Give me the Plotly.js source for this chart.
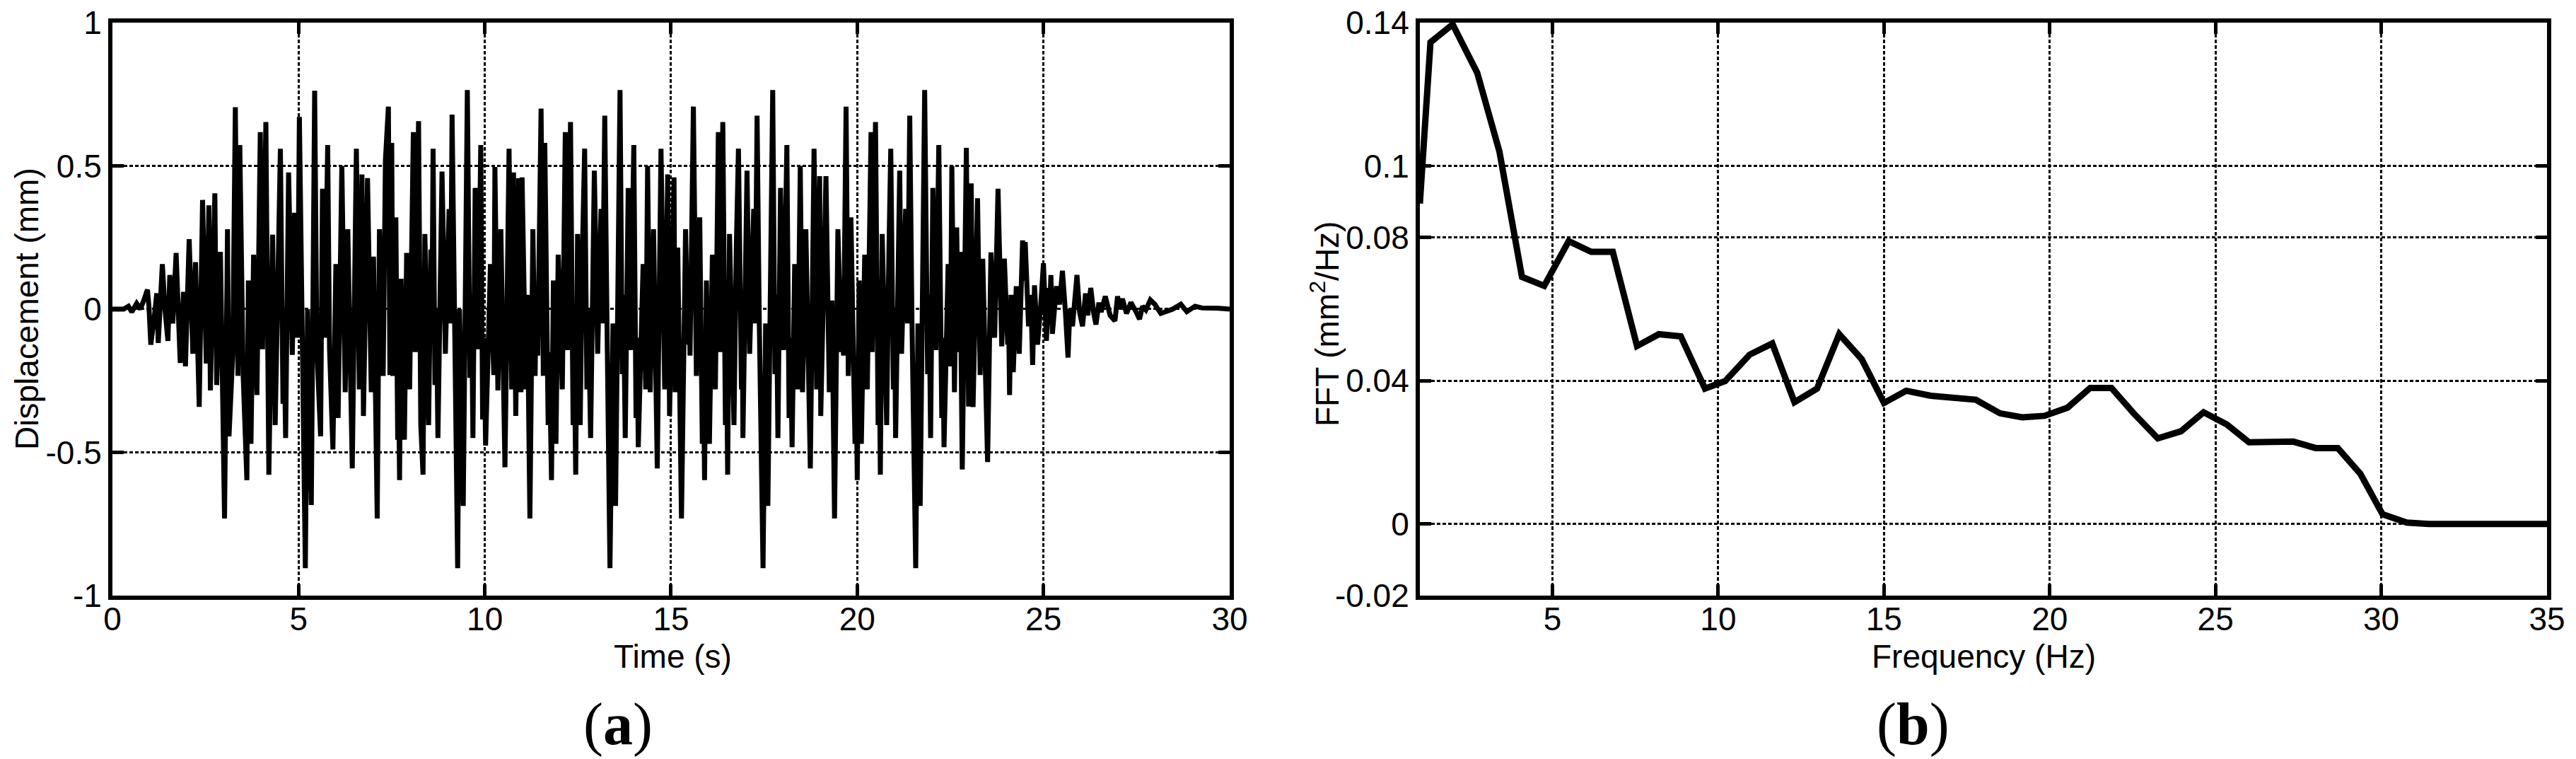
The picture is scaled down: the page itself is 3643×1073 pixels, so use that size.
<!DOCTYPE html>
<html>
<head>
<meta charset="utf-8">
<script src="https://cdn.plot.ly/plotly-3.0.1.min.js"></script>
<style>
  html, body { margin: 0; padding: 0; background: #fff; }
  #chart { width: 3643px; height: 1073px; }
</style>
</head>
<body>
<div id="chart"></div>
<script>
// (a) displacement record (peaks and troughs)
const timeS = [
  0, 0.3, 0.43, 0.52, 0.65, 0.75, 0.84, 0.94, 0.98, 1.03, 1.13, 1.19, 1.23, 1.34, 1.41, 1.49, 1.54, 1.62, 1.71, 1.82,
  1.91, 1.96, 2.06, 2.16, 2.23, 2.33, 2.42, 2.52, 2.59, 2.63, 2.75, 2.80, 2.90, 3.01, 3.09, 3.13, 3.23, 3.30, 3.37, 3.42,
  3.51, 3.61, 3.65, 3.72, 3.79, 3.88, 3.97, 4.03, 4.12, 4.20, 4.30, 4.37, 4.51, 4.58, 4.61, 4.65, 4.73, 4.83, 4.89, 4.97,
  5.02, 5.10, 5.18, 5.24, 5.34, 5.43, 5.49, 5.59, 5.64, 5.70, 5.78, 5.83, 5.92, 6.00, 6.06, 6.16, 6.25, 6.32, 6.44, 6.55,
  6.63, 6.70, 6.74, 6.85, 6.95, 7.01, 7.11, 7.17, 7.27, 7.33, 7.41, 7.45, 7.50, 7.53, 7.61, 7.66, 7.68, 7.71, 7.75, 7.84,
  7.90, 7.98, 8.08, 8.13, 8.22, 8.28, 8.34, 8.39, 8.49, 8.55, 8.58, 8.61, 8.66, 8.70, 8.74, 8.85, 8.94, 9.04, 9.08, 9.12,
  9.20, 9.27, 9.32, 9.42, 9.53, 9.60, 9.64, 9.68, 9.74, 9.82, 9.89, 9.94, 9.98, 10.02, 10.15, 10.24, 10.27, 10.35, 10.43, 10.54,
  10.65, 10.72, 10.77, 10.83, 10.91, 10.97, 11.00, 11.10, 11.14, 11.21, 11.29, 11.35, 11.38, 11.42, 11.51, 11.57, 11.61, 11.70, 11.73, 11.79,
  11.84, 11.91, 11.97, 12.08, 12.16, 12.22, 12.30, 12.37, 12.40, 12.44, 12.49, 12.56, 12.62, 12.68, 12.74, 12.78, 12.84, 12.94, 13.03, 13.12,
  13.16, 13.22, 13.28, 13.36, 13.44, 13.51, 13.63, 13.69, 13.72, 13.77, 13.85, 13.91, 14.00, 14.06, 14.09, 14.12, 14.25, 14.32, 14.37, 14.44,
  14.53, 14.63, 14.73, 14.83, 14.91, 14.96, 15.08, 15.11, 15.18, 15.28, 15.39, 15.45, 15.48, 15.51, 15.60, 15.68, 15.77, 15.84, 15.87, 15.90,
  15.95, 16.03, 16.11, 16.19, 16.27, 16.32, 16.39, 16.46, 16.49, 16.52, 16.57, 16.69, 16.75, 16.81, 16.89, 16.91, 16.93, 17.04, 17.11, 17.22,
  17.26, 17.31, 17.37, 17.47, 17.54, 17.60, 17.73, 17.79, 17.83, 17.87, 17.94, 18.02, 18.11, 18.17, 18.21, 18.25, 18.32, 18.40, 18.47, 18.53,
  18.62, 18.74, 18.84, 18.91, 18.99, 19.02, 19.16, 19.25, 19.32, 19.39, 19.48, 19.57, 19.60, 19.63, 19.70, 19.76, 19.83, 19.94, 19.97, 20.00,
  20.05, 20.11, 20.20, 20.27, 20.37, 20.40, 20.49, 20.56, 20.59, 20.62, 20.67, 20.79, 20.85, 20.90, 20.97, 21.00, 21.03, 21.14, 21.19, 21.30,
  21.35, 21.41, 21.47, 21.57, 21.63, 21.69, 21.81, 21.89, 21.93, 21.97, 22.03, 22.11, 22.19, 22.27, 22.30, 22.33, 22.44, 22.50, 22.54, 22.61,
  22.67, 22.72, 22.76, 22.82, 22.93, 22.99, 23.06, 23.11, 23.23, 23.30, 23.37, 23.50, 23.59, 23.69, 23.78, 23.88, 23.95, 24.04, 24.06, 24.09,
  24.13, 24.19, 24.27, 24.35, 24.44, 24.48, 24.51, 24.60, 24.66, 24.71, 24.76, 24.84, 24.92, 25.00, 25.08, 25.14, 25.17, 25.20, 25.24, 25.35,
  25.43, 25.51, 25.59, 25.66, 25.71, 25.78, 25.90, 25.97, 26.05, 26.13, 26.19, 26.27, 26.35, 26.41, 26.49, 26.55, 26.66, 26.79, 26.92, 26.99,
  27.05, 27.12, 27.23, 27.35, 27.49, 27.58, 27.66, 27.75, 27.87, 27.99, 28.15, 28.31, 28.47, 28.69, 28.85, 29.07, 29.26, 29.70, 30
];
const displacementMm = [
  0, 0, 0.01, -0.01, 0.02, 0, 0.03, 0.068, 0.01, -0.124, -0.02, 0.055, -0.118, 0.157, 0, -0.111, 0.119, -0.05, 0.196, -0.188,
  0.06, -0.2, 0.244, -0.156, 0.164, -0.341, 0.381, -0.19, 0.362, -0.284, 0.404, -0.265, 0.2, -0.731, 0.279, -0.444, -0.16, 0.705, -0.233, 0.573,
  -0.23, -0.597, 0.1, -0.47, 0.19, -0.3, 0.618, -0.14, 0.653, -0.578, 0.26, -0.405, 0.56, -0.33, -0.1, -0.45, 0.477, -0.16, 0.336, -0.1,
  0.671, -0.2, -0.904, 0, -0.684, 0.762, -0.14, -0.444, 0.42, -0.1, 0.573, -0.14, -0.49, 0.157, -0.38, 0.5, -0.29, 0.279, -0.556, 0.56,
  -0.28, 0.47, -0.373, 0.457, -0.29, 0.183, -0.731, 0.279, -0.233, 0.52, 0.707, -0.23, 0.58, -0.233, 0.32, -0.456, -0.2, -0.597, 0.106, -0.456,
  0.196, -0.28, 0.618, -0.15, 0.656, -0.405, -0.578, 0.262, -0.405, 0.208, -0.05, 0.56, -0.265, 0, -0.45, 0.48, -0.156, 0.349, -0.05, 0.679,
  -0.05, -0.904, 0, -0.687, 0.765, -0.24, 0.05, -0.45, 0.423, -0.14, 0.573, -0.385, -0.1, -0.476, 0.157, -0.23, 0.496, -0.284, 0.279, -0.552,
  0.56, -0.28, 0.477, -0.373, 0.457, -0.29, 0.46, -0.28, 0.05, -0.731, 0.279, -0.233, 0.05, -0.162, 0.7, -0.233, 0.58, -0.405, -0.15, -0.597,
  0.1, -0.47, 0.19, -0.28, 0.618, -0.143, 0.653, -0.405, -0.15, -0.578, 0.262, -0.405, 0.2, 0.56, -0.28, 0, -0.45, 0.483, -0.156, 0.35,
  -0.05, 0.675, -0.05, -0.904, -0.05, -0.687, 0.765, -0.227, 0.05, -0.45, 0.423, -0.143, 0.573, -0.38, -0.1, -0.482, 0.157, -0.28, 0.5, -0.29,
  0.279, -0.556, 0.56, -0.28, 0.47, -0.373, 0.46, -0.29, 0.215, -0.731, 0.279, -0.124, 0.05, -0.162, 0.707, -0.233, 0.32, -0.47, -0.2, -0.597,
  0.1, -0.47, 0.19, -0.28, 0.618, -0.15, 0.653, -0.405, -0.15, -0.578, 0.262, -0.405, 0.2, 0.56, -0.28, 0, -0.45, 0.483, -0.156, 0.35,
  -0.05, 0.675, -0.05, -0.904, -0.05, -0.687, 0.765, -0.227, 0.05, -0.45, 0.423, -0.143, 0.573, -0.38, -0.1, -0.482, 0.157, -0.28, 0.5, -0.29,
  0.279, -0.556, 0.56, -0.28, 0.464, -0.373, 0.464, -0.29, 0.03, -0.731, 0.279, -0.15, 0.05, -0.162, 0.707, -0.233, 0.32, -0.47, -0.2, -0.597,
  0.1, -0.47, 0.19, -0.28, 0.618, -0.15, 0.653, -0.405, -0.15, -0.578, 0.262, -0.405, 0.2, 0.56, -0.28, 0, -0.45, 0.483, -0.156, 0.35,
  -0.05, 0.675, -0.05, -0.904, -0.05, -0.687, 0.765, -0.227, 0.05, -0.45, 0.423, -0.143, 0.573, -0.38, -0.1, -0.482, 0.157, -0.2, 0.5, -0.29,
  0.285, -0.15, 0.2, -0.56, 0.563, -0.34, 0.439, -0.342, 0.387, -0.23, 0.176, -0.534, 0.198, -0.1, 0.42, -0.13, 0.176, -0.124, 0.02, -0.3,
  0.05, -0.22, 0.08, -0.156, 0.24, 0.1, 0.234, -0.06, 0.05, -0.195, 0.083, -0.124, 0, 0.16, -0.111, 0.074, 0, 0.119, -0.086, 0.08,
  0.016, 0.134, -0.01, -0.169, 0, -0.06, 0.119, -0.01, -0.06, 0.055, -0.022, 0.074, -0.015, -0.054, 0.023, -0.01, 0.045, -0.022, -0.041, 0.045,
  0, 0.036, -0.015, 0.023, -0.01, -0.035, 0.01, -0.003, 0.032, 0.017, -0.015, -0.009, 0, 0.017, -0.009, 0.01, 0.004, 0.003, 0
];

// (b) spectrum
const freqHz = [
  1.0, 1.32, 1.99, 2.73, 3.40, 4.08, 4.75, 5.49, 6.17, 6.82, 7.55, 8.21, 8.87, 9.60, 10.21, 10.95, 11.63, 12.30, 12.98, 13.65,
  14.33, 15.00, 15.67, 16.41, 17.77, 18.50, 19.17, 19.84, 20.54, 21.22, 21.86, 22.53, 23.26, 23.96, 24.64, 25.34, 26.01, 26.68, 27.35, 28.02,
  28.69, 29.37, 30.04, 30.77, 31.44, 35
];
const fftAmp = [
  0.0895, 0.1345, 0.1395, 0.126, 0.104, 0.069, 0.0665, 0.079, 0.076, 0.076, 0.0497, 0.053, 0.0524, 0.0378, 0.0399, 0.0473, 0.0504, 0.034, 0.0378, 0.053,
  0.046, 0.0338, 0.0372, 0.0358, 0.0347, 0.0309, 0.0298, 0.0302, 0.0325, 0.038, 0.038, 0.0309, 0.0239, 0.0259, 0.0312, 0.0278, 0.0228, 0.023, 0.023, 0.0212,
  0.0212, 0.014, 0.0027, 0.0004, 0, 0
];

const tTicks = [0, 5, 10, 15, 20, 25, 30];
const dTicks = [-1, -0.5, 0, 0.5, 1];
const dTickText = ["-1", "-0.5", "0", "0.5", "1"];
const fTicks = [5, 10, 15, 20, 25, 30, 35];
const aTicks = [-0.02, 0, 0.04, 0.08, 0.1, 0.14];
const aTickText = ["-0.02", "0", "0.04", "0.08", "0.1", "0.14"];

const FONT = "Liberation Sans, Arial, Helvetica, sans-serif";
const W = 3643, H = 1073;

function axisBase(extra) {
  return Object.assign({
    showline: true, linecolor: "#000", linewidth: 6, mirror: "allticks",
    ticks: "inside", ticklen: 16, tickwidth: 5, tickcolor: "#000",
    showgrid: true, gridcolor: "#000", gridwidth: 3, griddash: "5px,3px",
    zeroline: false, tickmode: "array",
    tickfont: { family: FONT, size: 46, color: "#000" },
    fixedrange: true
  }, extra);
}

// axis titles and panel letters placed as paper annotations
function label(text, px, py, angle, font) {
  return {
    text: text, xref: "paper", yref: "paper", x: px / W, y: 1 - py / H,
    xanchor: "center", yanchor: "middle", textangle: angle || 0, showarrow: false,
    font: font || { family: FONT, size: 46, color: "#000" }
  };
}
const panelFont = { family: "Liberation Serif, Times New Roman, serif", size: 84, color: "#000" };

const traces = [
  {
    x: timeS, y: displacementMm, type: "scatter", mode: "lines",
    xaxis: "x", yaxis: "y", line: { color: "#000", width: 7 }, hoverinfo: "skip"
  },
  {
    x: freqHz, y: fftAmp, type: "scatter", mode: "lines",
    xaxis: "x2", yaxis: "y2", line: { color: "#000", width: 9 }, hoverinfo: "skip"
  }
];

const layout = {
  width: W, height: H,
  margin: { l: 0, r: 0, t: 0, b: 0 },
  paper_bgcolor: "#fff", plot_bgcolor: "#fff",
  showlegend: false,
  font: { family: FONT, color: "#000", size: 46 },
  xaxis: axisBase({ domain: [0.04365, 0.47735], anchor: "y", range: [0, 30], tickvals: tTicks, ticklabelstandoff: -12 }),
  yaxis: axisBase({ domain: [0.21528, 0.97018], anchor: "x", range: [-1, 1], tickvals: dTicks, ticktext: dTickText }),
  xaxis2: axisBase({ domain: [0.55119, 0.98875], anchor: "y2", range: [1, 35], tickvals: fTicks, ticklabelstandoff: -12 }),
  yaxis2: axisBase({ domain: [0.21528, 0.97018], anchor: "x2", range: [-0.02, 0.14], tickvals: aTicks, ticktext: aTickText }),
  annotations: [
    label("Time (s)", 952, 928),
    label("Frequency (Hz)", 2805, 928),
    label("Displacement (mm)", 38, 437, -90),
    label("FFT (mm<sup>2</sup>/Hz)", 1874, 458, -90),
    label("(<b>a</b>)", 874, 1024, 0, panelFont),
    label("(<b>b</b>)", 2705, 1024, 0, panelFont)
  ]
};

Plotly.newPlot("chart", traces, layout, { displayModeBar: false, staticPlot: true });
</script>
</body>
</html>
